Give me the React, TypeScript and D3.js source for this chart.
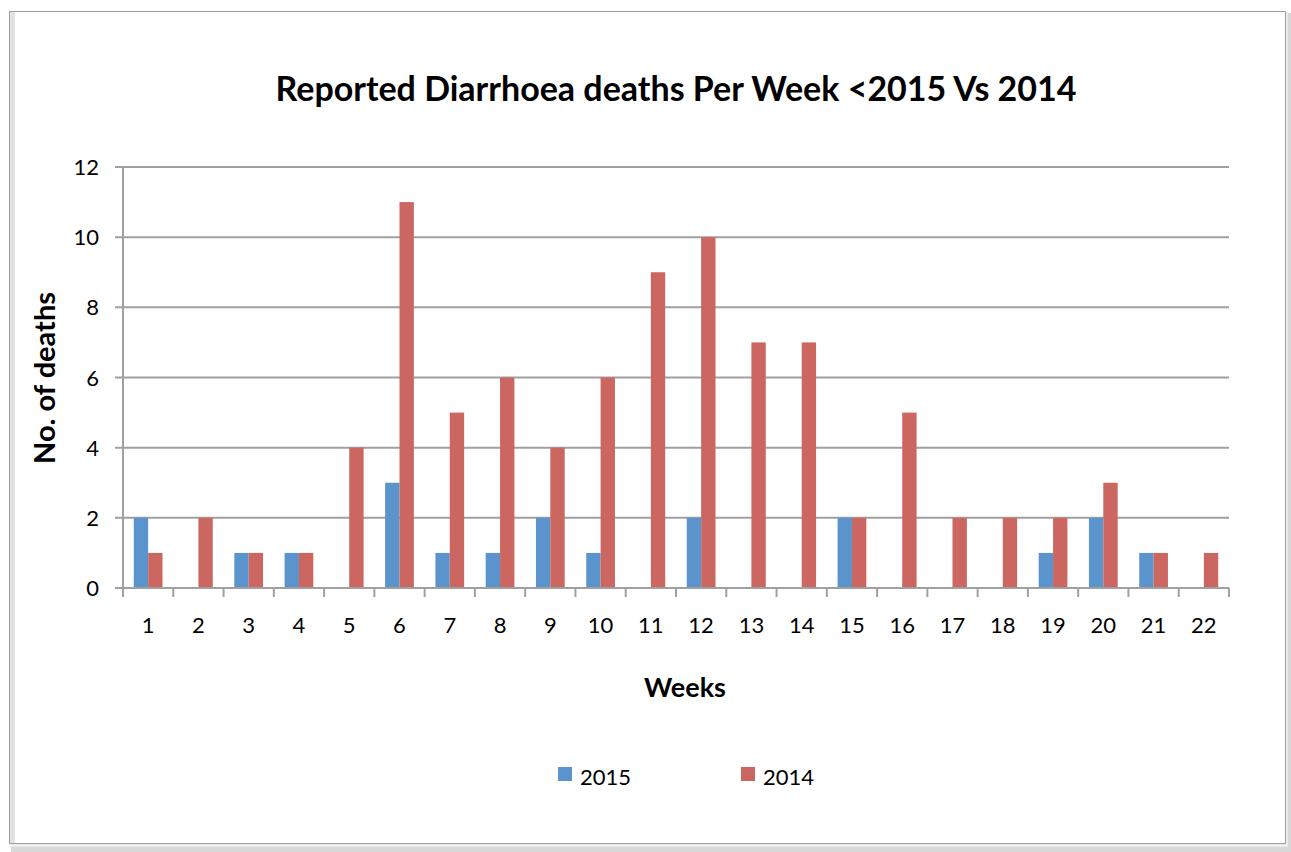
import React from "react";
import * as d3 from "d3";

const weeks = ["1","2","3","4","5","6","7","8","9","10","11","12","13","14","15","16","17","18","19","20","21","22"];
const deaths2015 = [2,0,1,1,0,3,1,1,2,1,0,2,0,0,2,0,0,0,1,2,1,0];
const deaths2014 = [1,2,1,1,4,11,5,6,4,6,9,10,7,7,2,5,2,2,2,3,1,1];
const yTicks = [0,2,4,6,8,10,12];
const seriesNames = ["2015", "2014"];

const W = 1291;
const H = 852;
const left = 123;
const right = 1229;
const top = 167;
const bottom = 588;
const colors = ["#5B93CC", "#CC6661"];
const font = "Lato, 'Open Sans', sans-serif";

export default function App() {
  const x = d3.scaleBand<string>().domain(weeks).range([left, right]).paddingInner(0).paddingOuter(0);
  const inner = d3.scaleBand<string>().domain(seriesNames).range([0, x.bandwidth()]).paddingInner(0).paddingOuter(0.75);
  const y = d3.scaleLinear().domain([0, 12]).range([bottom, top]);
  const series = [deaths2015, deaths2014];

  return (
    <svg width={W} height={H} style={{ position: "absolute", left: 0, top: 0 }}>
      <rect x={0} y={0} width={W} height={H} fill="#fff" />
      {/* frame shadow */}
      <rect x={11} y={13} width={1280} height={839} fill="#d8d8d8" />
      <rect x={10} y={12} width={1278} height={835} fill="#ececec" />
      <rect x={9.5} y={11.5} width={1276} height={832} fill="#fff" stroke="#a0a0a0" strokeWidth={1} />
      <rect x={10} y={12} width={5} height={831} fill="#e2e2e2" />

      <text x={676} y={101} textAnchor="middle" fontFamily={font} fontWeight="bold" fontSize={34} fill="#000">
        Reported Diarrhoea deaths Per Week &lt;2015 Vs 2014
      </text>

      {yTicks.map((t) => (
        <g key={t}>
          <line x1={115} x2={right} y1={y(t)} y2={y(t)} stroke="#a0a0a0" strokeWidth={2} />
          <text x={99} y={y(t) + 8} textAnchor="end" fontFamily={font} fontSize={22} fill="#000">{t}</text>
        </g>
      ))}

      {series.map((vals, si) =>
        vals.map((v, i) =>
          v > 0 ? (
            <rect
              key={si + "-" + i}
              x={(x(weeks[i]) as number) + (inner(seriesNames[si]) as number)}
              y={y(v)}
              width={inner.bandwidth()}
              height={y(0) - y(v)}
              fill={colors[si]}
            />
          ) : null
        )
      )}

      <line x1={left} x2={left} y1={top - 1} y2={bottom + 9} stroke="#a0a0a0" strokeWidth={2} />
      <line x1={115} x2={right} y1={bottom} y2={bottom} stroke="#a0a0a0" strokeWidth={2} />
      {weeks.map((w) => (
        <line key={"t" + w} x1={(x(w) as number) + x.bandwidth()} x2={(x(w) as number) + x.bandwidth()} y1={bottom} y2={bottom + 9} stroke="#a0a0a0" strokeWidth={2} />
      ))}
      {weeks.map((w) => (
        <text key={"l" + w} x={(x(w) as number) + x.bandwidth() / 2} y={633} textAnchor="middle" fontFamily={font} fontSize={22} fill="#000">{w}</text>
      ))}

      <text x={685} y={697} textAnchor="middle" fontFamily={font} fontWeight="bold" fontSize={27} fill="#000">Weeks</text>
      <text transform="translate(55,378) rotate(-90)" textAnchor="middle" fontFamily={font} fontWeight="bold" fontSize={29} fill="#000">No. of deaths</text>

      {seriesNames.map((s, i) => (
        <g key={s} transform={`translate(${[558, 741][i]},0)`}>
          <rect x={0} y={767} width={14} height={14} fill={colors[i]} />
          <text x={22} y={785} fontFamily={font} fontSize={22} fill="#000">{s}</text>
        </g>
      ))}
    </svg>
  );
}
